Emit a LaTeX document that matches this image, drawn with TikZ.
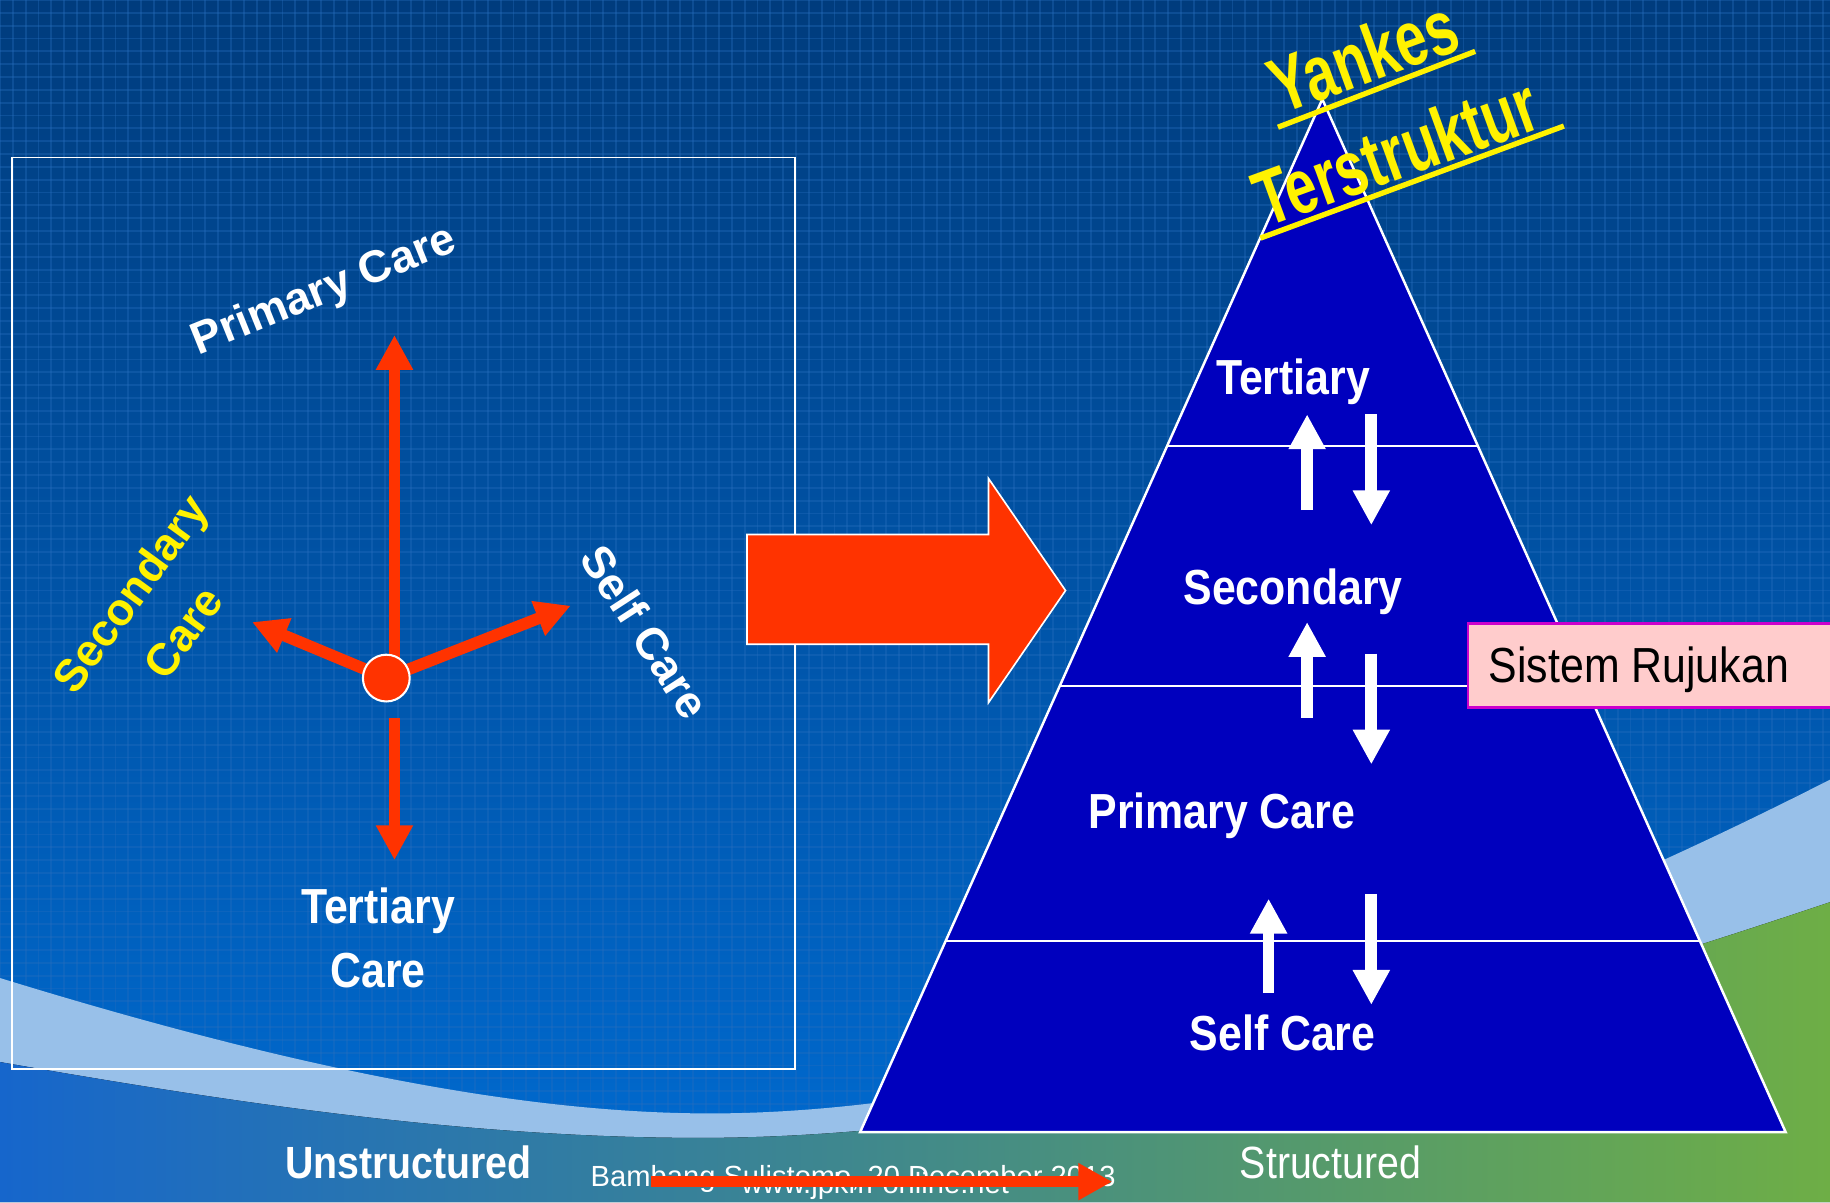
\documentclass[tikz,border=0pt]{standalone}
\usepackage{fontspec}
\setmainfont{Liberation Sans}
\newfontfamily\narrowfont[FakeStretch=0.87]{Liberation Sans}
\newfontfamily\tallfont[FakeStretch=0.72]{Liberation Sans}
\usetikzlibrary{arrows.meta,calc}

\definecolor{skytop}{RGB}{0,60,125}
\definecolor{skybottom}{RGB}{0,104,204}
\definecolor{gridblue}{RGB}{40,110,190}
\definecolor{bandblue}{RGB}{152,192,233}
\definecolor{stripblue}{RGB}{22,102,204}
\definecolor{stripteal}{RGB}{68,140,165}
\definecolor{stripgreen}{RGB}{110,174,70}
\definecolor{pyramidblue}{RGB}{0,0,190}
\definecolor{arrowred}{RGB}{255,51,0}
\definecolor{rujukanpink}{RGB}{255,204,204}
\definecolor{rujukanedge}{RGB}{204,0,204}

\tikzset{
  upperedge/.style={insert path={.. controls (250,915) and (450,955) .. (615,954) .. controls (900,952) and (1250,830) .. (1568,668)}},
  loweredge/.style={insert path={.. controls (200,945) and (400,975) .. (600,975) .. controls (900,975) and (1250,880) .. (1568,773)}},
  gridline/.style={gridblue, line width=0.45pt, opacity=0.35},
  panel/.style={white, line width=0.45pt},
  redarrow/.style={arrowred, line width=2.85pt, -{Triangle[length=8.5pt,width=8.5pt]}},
  whitearrow/.style={white, line width=2.85pt, -{Triangle[length=8.5pt,width=8.5pt]}},
  footarrow/.style={arrowred, line width=2.56pt, -{Triangle[length=8.25pt,width=8.5pt]}},
  hub/.style={circle, fill=arrowred, draw=white, line width=0.5pt, minimum size=11.4pt, inner sep=0pt},
  blockarrow/.style={fill=arrowred, draw=white, line width=0.4pt},
  pyramid/.style={fill=pyramidblue, draw=white, line width=0.6pt},
  levelline/.style={white, line width=0.5pt},
  carelabel/.style={text=white, font={\bfseries\fontsize{11}{16}\selectfont}, inner sep=0pt, align=center},
  levellabel/.style={text=white, font={\narrowfont\bfseries\fontsize{12}{15.6}\selectfont}, inner sep=0pt, anchor=base},
  rujukanbox/.style={fill=rujukanpink, draw=rujukanedge, line width=0.6pt, inner sep=0pt},
  rujukantext/.style={font={\narrowfont\fontsize{12}{14}\selectfont}, inner sep=0pt, anchor=base west},
  titletext/.style={text=yellow, font={\tallfont\bfseries\fontsize{19}{22}\selectfont}, inner sep=0pt, anchor=base},
  titleline/.style={yellow, line width=1.3pt},
  footer/.style={text=white, font={\fontsize{7.1}{8.5}\selectfont}, inner sep=0pt, anchor=base}
}

\begin{document}
\begin{tikzpicture}[x=0.01cm, y=-0.01cm]

\useasboundingbox (0,0) rectangle (1568,1030);
\clip (0,0) rectangle (1568,1030);

% background
\fill[top color=skytop, bottom color=skybottom] (0,0) rectangle (1568,960);
\fill[skybottom] (0,950) rectangle (1568,1030);
\begin{scope}
\clip (0,0) -- (0,838) [upperedge] -- (1568,0) -- cycle;
\foreach \gx in {0,11,...,1568} \draw[gridline] (\gx,0) -- (\gx,960);
\foreach \gy in {0,11,...,960} \draw[gridline] (0,\gy) -- (1568,\gy);
\end{scope}
\fill[bandblue] (0,838) [upperedge] -- (1568,1030) -- (0,1030) -- cycle;
\fill[left color=stripblue, middle color=stripteal, right color=stripgreen] (0,910) [loweredge] -- (1568,1030) -- (0,1030) -- cycle;

% unstructured care
\draw[panel] (10,135) rectangle (681,916);

\node[carelabel, rotate=22] (primaryLbl) at (278,250) {Primary Care};
\node[carelabel, text=yellow, rotate=54] (secondaryLbl) at (134,525) {Secondary\\Care};
\node[carelabel, rotate=-57] (selfLbl) at (553,541) {Self Care};
\node[levellabel, anchor=center, align=center] (tertiaryLbl) at (324,804) {Tertiary\\Care};

\coordinate (hubCentre) at (331,581);
\coordinate (primaryTip) at (338,287);
\coordinate (secondaryTip) at (216,533);
\coordinate (selfTip) at (489,519);
\coordinate (tertiaryTail) at (338,615);
\coordinate (tertiaryTip) at (338,737);

\draw[redarrow] (primaryTip |- hubCentre) -- (primaryTip);
\draw[redarrow] (hubCentre) -- (secondaryTip);
\draw[redarrow] (hubCentre) -- (selfTip);
\draw[redarrow] (tertiaryTail) -- (tertiaryTip);
\node[hub] (hub) at (hubCentre) {};

% big arrow
\filldraw[blockarrow] (640,458) -- (847,458) -- (847,410) -- (913,506) -- (847,602) -- (847,552) -- (640,552) -- cycle;

% structured care
\coordinate (apex) at (1133,85);
\coordinate (baseL) at (737,970);
\coordinate (baseR) at (1530,970);
\filldraw[pyramid] (apex) -- (baseL) -- (baseR) -- cycle;

\foreach \t in {0.3356,0.5684,0.8147}
  \draw[levelline] ($(apex)!\t!(baseL)$) -- ($(apex)!\t!(baseR)$);

\foreach \n/\ux/\ua/\ub/\dx/\da/\db in {1/1120/437/355/1175/355/450, 2/1120/615/533/1175/560/655, 3/1087/851/770/1175/766/861}{
  \coordinate (upTail\n) at (\ux,\ua);
  \coordinate (upTip\n) at (\ux,\ub);
  \coordinate (downTail\n) at (\dx,\da);
  \coordinate (downTip\n) at (\dx,\db);
  \draw[whitearrow] (upTail\n) -- (upTip\n);
  \draw[whitearrow] (downTail\n) -- (downTip\n);
}

\node[levellabel] (tertiary) at (1108,338) {Tertiary};
\node[levellabel] (secondary) at (1108,518) {Secondary};
\node[levellabel] (primary) at (1047,710) {Primary Care};
\node[levellabel] (self) at (1099,900) {Self Care};

\node[rujukanbox, anchor=north west, minimum width=92pt, minimum height=20.5pt] (rujukanBox) at (1257,533) {};
\node[rujukantext] (rujukan) at (1275,585) {Sistem Rujukan};

\node[titletext, rotate=20] (yankes) at (1176,70) {Yankes};
\node[titletext, rotate=20] (terstruktur) at (1204,152) {Terstruktur};
\draw[titleline] (1095,109) -- (1264,44);
\draw[titleline] (1080,204) -- (1340,108);

% bottom line
\node[levellabel, font={\narrowfont\bfseries\fontsize{11}{13}\selectfont}] (unstructured) at (350,1010) {Unstructured};
\node[levellabel, font={\narrowfont\fontsize{11}{13}\selectfont}] (structured) at (1140,1010) {Structured};

\node[footer] (author) at (731,1017) {Bambang Sulistomo, 20 December 2013};
\node[footer] (website) at (750,1023) {www.jpkm-online.net};
\coordinate (footTail) at (558,1012.5);
\coordinate (footTip) at (953,1012.5);
\draw[footarrow] (footTail) -- (footTip);

\end{tikzpicture}
\end{document}
